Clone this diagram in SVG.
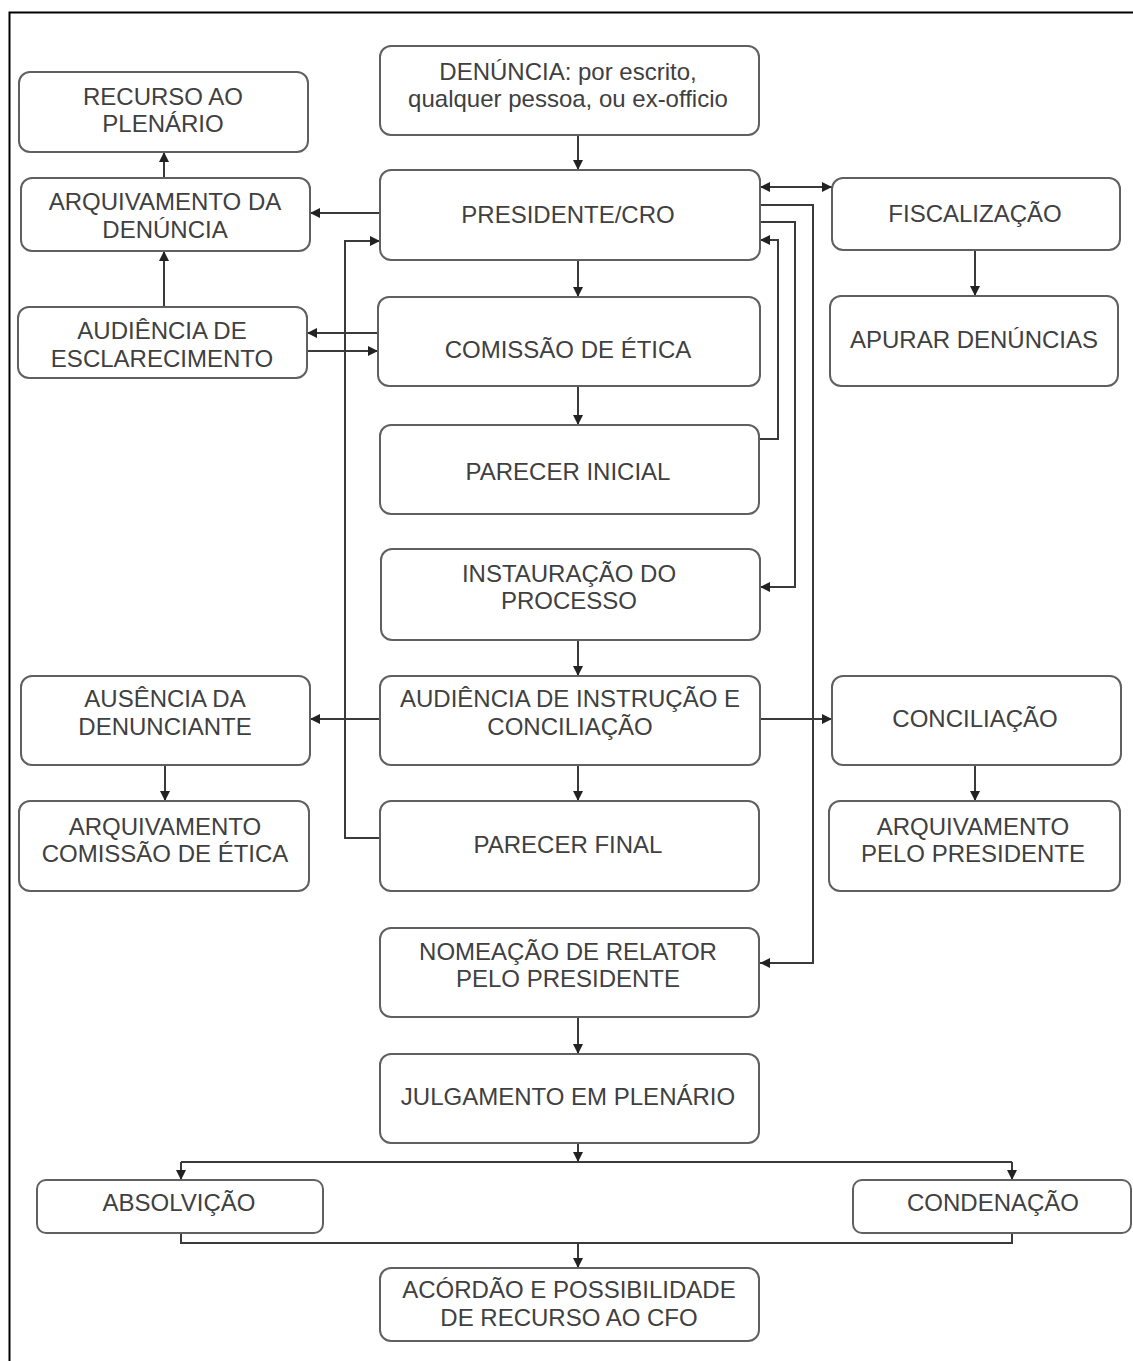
<svg xmlns="http://www.w3.org/2000/svg" width="1133" height="1361" viewBox="0 0 1133 1361">
<defs>
<marker id="ah" viewBox="0 0 10 10" refX="10" refY="5" markerWidth="10" markerHeight="10" markerUnits="userSpaceOnUse" orient="auto-start-reverse">
<path d="M0,0 L10,5 L0,10 Z" fill="#222"/>
</marker>
<style>
.box{fill:#fff;stroke:#606060;stroke-width:2}
.t{font-family:"Liberation Sans",Arial,sans-serif;font-size:24px;fill:#404040;text-anchor:middle}
.c{fill:none;stroke:#3a3a3a;stroke-width:2}
.a{marker-end:url(#ah)}
</style>
</defs>
<rect x="0" y="0" width="1133" height="1361" fill="#fff"/>
<path d="M9.5,1361 V12.5 H1133" fill="none" stroke="#000" stroke-width="2"/>

<g id="connectors">
<path class="c a" d="M578,135 V170"/>
<path class="c a" d="M578,260 V297"/>
<path class="c a" d="M578,386 V425"/>
<path class="c a" d="M578,640 V676"/>
<path class="c a" d="M578,765 V801"/>
<path class="c a" d="M578,1017 V1054"/>
<path class="c a" d="M578,1143 V1162"/>
<path class="c" d="M181,1162 H1012"/>
<path class="c a" d="M181,1162 V1180"/>
<path class="c a" d="M1012,1162 V1180"/>
<path class="c" d="M181,1233 V1243 H1012 V1233"/>
<path class="c a" d="M578,1243 V1268"/>
<path class="c a" d="M380,213 H310"/>
<path class="c a" d="M164,178 V152"/>
<path class="c a" d="M164,307 V251"/>
<path class="c a" d="M378,333 H307"/>
<path class="c a" d="M307,351 H378"/>
<path class="c a" d="M380,838 H345 V241 H380"/>
<path class="c a" style="marker-start:url(#ah)" d="M760,187 H832"/>
<path class="c a" d="M760,205 H813 V963 H760"/>
<path class="c a" d="M760,222 H795 V587 H760"/>
<path class="c a" d="M759,439 H778 V240 H760"/>
<path class="c a" d="M380,719 H310"/>
<path class="c a" d="M760,719 H832"/>
<path class="c a" d="M165,765 V801"/>
<path class="c a" d="M975,765 V801"/>
<path class="c a" d="M975,250 V296"/>
</g>

<g id="denuncia"><rect class="box" x="380" y="46" width="379" height="89" rx="11"/>
<text class="t" x="568" y="80">DENÚNCIA: por escrito,</text><text class="t" x="568" y="107">qualquer pessoa, ou ex-officio</text></g>
<g id="presidente"><rect class="box" x="380" y="170" width="380" height="90" rx="11"/>
<text class="t" x="568" y="223">PRESIDENTE/CRO</text></g>
<g id="recurso"><rect class="box" x="19" y="72" width="289" height="80" rx="11"/>
<text class="t" x="163" y="105">RECURSO AO</text><text class="t" x="163" y="132">PLENÁRIO</text></g>
<g id="arquivamento-denuncia"><rect class="box" x="21" y="178" width="289" height="73" rx="11"/>
<text class="t" x="165" y="210">ARQUIVAMENTO DA</text><text class="t" x="165" y="238">DENÚNCIA</text></g>
<g id="audiencia-esclarecimento"><rect class="box" x="18" y="307" width="289" height="71" rx="11"/>
<text class="t" x="162" y="339">AUDIÊNCIA DE</text><text class="t" x="162" y="367">ESCLARECIMENTO</text></g>
<g id="fiscalizacao"><rect class="box" x="832" y="178" width="288" height="72" rx="11"/>
<text class="t" x="975" y="222">FISCALIZAÇÃO</text></g>
<g id="apurar"><rect class="box" x="830" y="296" width="288" height="90" rx="11"/>
<text class="t" x="974" y="348">APURAR DENÚNCIAS</text></g>
<g id="comissao"><rect class="box" x="378" y="297" width="382" height="89" rx="11"/>
<text class="t" x="568" y="358">COMISSÃO DE ÉTICA</text></g>
<g id="parecer-inicial"><rect class="box" x="380" y="425" width="379" height="89" rx="11"/>
<text class="t" x="568" y="480">PARECER INICIAL</text></g>
<g id="instauracao"><rect class="box" x="381" y="549" width="379" height="91" rx="11"/>
<text class="t" x="569" y="582">INSTAURAÇÃO DO</text><text class="t" x="569" y="609">PROCESSO</text></g>
<g id="audiencia-instrucao"><rect class="box" x="380" y="676" width="380" height="89" rx="11"/>
<text class="t" x="570" y="707">AUDIÊNCIA DE INSTRUÇÃO E</text><text class="t" x="570" y="735">CONCILIAÇÃO</text></g>
<g id="ausencia"><rect class="box" x="21" y="676" width="289" height="89" rx="11"/>
<text class="t" x="165" y="707">AUSÊNCIA DA</text><text class="t" x="165" y="735">DENUNCIANTE</text></g>
<g id="conciliacao"><rect class="box" x="832" y="676" width="289" height="89" rx="11"/>
<text class="t" x="975" y="727">CONCILIAÇÃO</text></g>
<g id="arquivamento-comissao"><rect class="box" x="19" y="801" width="290" height="90" rx="11"/>
<text class="t" x="165" y="835">ARQUIVAMENTO</text><text class="t" x="165" y="862">COMISSÃO DE ÉTICA</text></g>
<g id="parecer-final"><rect class="box" x="380" y="801" width="379" height="90" rx="11"/>
<text class="t" x="568" y="853">PARECER FINAL</text></g>
<g id="arquivamento-presidente"><rect class="box" x="829" y="801" width="291" height="90" rx="11"/>
<text class="t" x="973" y="835">ARQUIVAMENTO</text><text class="t" x="973" y="862">PELO PRESIDENTE</text></g>
<g id="nomeacao"><rect class="box" x="380" y="928" width="379" height="89" rx="11"/>
<text class="t" x="568" y="960">NOMEAÇÃO DE RELATOR</text><text class="t" x="568" y="987">PELO PRESIDENTE</text></g>
<g id="julgamento"><rect class="box" x="380" y="1054" width="379" height="89" rx="11"/>
<text class="t" x="568" y="1105">JULGAMENTO EM PLENÁRIO</text></g>
<g id="absolvicao"><rect class="box" x="37" y="1180" width="286" height="53" rx="9"/>
<text class="t" x="179" y="1211">ABSOLVIÇÃO</text></g>
<g id="condenacao"><rect class="box" x="853" y="1180" width="278" height="53" rx="9"/>
<text class="t" x="993" y="1211">CONDENAÇÃO</text></g>
<g id="acordao"><rect class="box" x="380" y="1268" width="379" height="73" rx="11"/>
<text class="t" x="569" y="1298">ACÓRDÃO E POSSIBILIDADE</text><text class="t" x="569" y="1326">DE RECURSO AO CFO</text></g>
</svg>
